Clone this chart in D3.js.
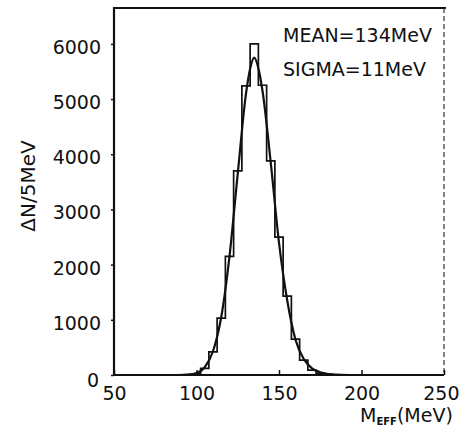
<!DOCTYPE html>
<html><head><meta charset="utf-8">
<script src="https://cdn.jsdelivr.net/npm/d3@7"></script>
<style>
html,body{margin:0;padding:0;background:#fff;}
svg{display:block;}
text{font-family:"DejaVu Sans",sans-serif;fill:#111;}
</style></head>
<body>
<script>
// histogram: bin centers (MeV, 5 MeV wide) and counts
const binCenters = [95,100,105,110,115,120,125,130,135,140,145,150,155,160,165,170,175,180];
const binCounts  = [8,20,120,420,1030,2150,3700,5240,6000,5250,3880,2500,1430,650,270,90,35,10];
// fitted curve
const fitMass  = [88,95,100,105,110,115,120,125,130,132.5,135,137.5,140,145,150,155,160,165,170,175,180,185,192];
const fitValue = [0,8,35,140,430,1050,2150,3650,5100,5550,5750,5560,5150,3850,2400,1350,640,290,120,50,18,6,0];
const xTicks = [50,100,150,200,250];
const yTicks = [0,1000,2000,3000,4000,5000,6000];
const annotations = ["MEAN=134MeV","SIGMA=11MeV"];

const W=460,H=429;
const svg=d3.select("body").append("svg").attr("width",W).attr("height",H);
const x=d3.scaleLinear().domain([50,250]).range([114,444]);
const y=d3.scaleLinear().domain([0,6650]).range([375,8]);

// frame: top solid, right dashed
svg.append("line").attr("x1",x(50)).attr("x2",x(250)+2).attr("y1",y(6650)).attr("y2",y(6650))
  .attr("stroke","#111").attr("stroke-width",2);
svg.append("line").attr("x1",x(250)).attr("x2",x(250)).attr("y1",y(6650)).attr("y2",y(0))
  .attr("stroke","#333").attr("stroke-width",1.2).attr("stroke-dasharray","5,3");

// axes
const gx=svg.append("g").attr("transform",`translate(0,${y(0)})`)
  .call(d3.axisBottom(x).tickValues(xTicks).tickSizeInner(-5).tickSizeOuter(0).tickPadding(12));
gx.select(".domain").remove();
gx.selectAll("line").attr("stroke","#111").attr("stroke-width",1.5);
gx.selectAll("text").attr("font-size",19).attr("fill","#111").attr("font-family","DejaVu Sans");
gx.selectAll(".tick").filter(d=>d===250).select("text").attr("text-anchor","end").attr("x",15);

const gy=svg.append("g").attr("transform",`translate(${x(50)},0)`)
  .call(d3.axisLeft(y).tickValues(yTicks).tickSizeInner(3).tickSizeOuter(0).tickPadding(10).tickFormat(d3.format("d")));
gy.select(".domain").remove();
gy.selectAll("line").attr("stroke","#111").attr("stroke-width",1.5);
gy.selectAll("text").attr("font-size",19).attr("fill","#111").attr("font-family","DejaVu Sans").attr("dy","0.5em");
gy.selectAll(".tick").filter(d=>d===0).select("text").attr("dx",-2).attr("dy","0.6em");

svg.append("line").attr("x1",x(50)).attr("x2",x(50)).attr("y1",y(6650)-1).attr("y2",y(0)+1)
  .attr("stroke","#111").attr("stroke-width",2.2);
svg.append("line").attr("x1",x(50)-1).attr("x2",x(250)).attr("y1",y(0)).attr("y2",y(0))
  .attr("stroke","#111").attr("stroke-width",2.2);

// histogram step path
const pts=[[binCenters[0]-2.5,0]];
binCenters.forEach((c,i)=>{pts.push([c-2.5,binCounts[i]]);pts.push([c+2.5,binCounts[i]]);});
pts.push([binCenters[binCenters.length-1]+2.5,0]);
svg.append("path").attr("d",d3.line().x(d=>x(d[0])).y(d=>y(d[1]))(pts))
  .attr("fill","none").attr("stroke","#111").attr("stroke-width",1.7);

// fit curve
svg.append("path").attr("d",d3.line().x((d,i)=>x(fitMass[i])).y(d=>y(d)).curve(d3.curveMonotoneX)(fitValue))
  .attr("fill","none").attr("stroke","#111").attr("stroke-width",2.2);

// annotations
svg.append("text").attr("x",283).attr("y",42).attr("font-size",19).text(annotations[0]);
svg.append("text").attr("x",283).attr("y",76).attr("font-size",19).text(annotations[1]);

// axis titles
const xt=svg.append("text").attr("x",360).attr("y",422).attr("font-size",19);
xt.append("tspan").text("M");
xt.append("tspan").attr("font-size",10).attr("font-weight","bold").attr("dy",3).text("EFF");
xt.append("tspan").attr("dy",-3).text("(MeV)");

svg.append("text").attr("transform","translate(35,186) rotate(-90)").attr("text-anchor","middle")
  .attr("font-size",20).text("ΔN/5MeV");
</script>
</body></html>
